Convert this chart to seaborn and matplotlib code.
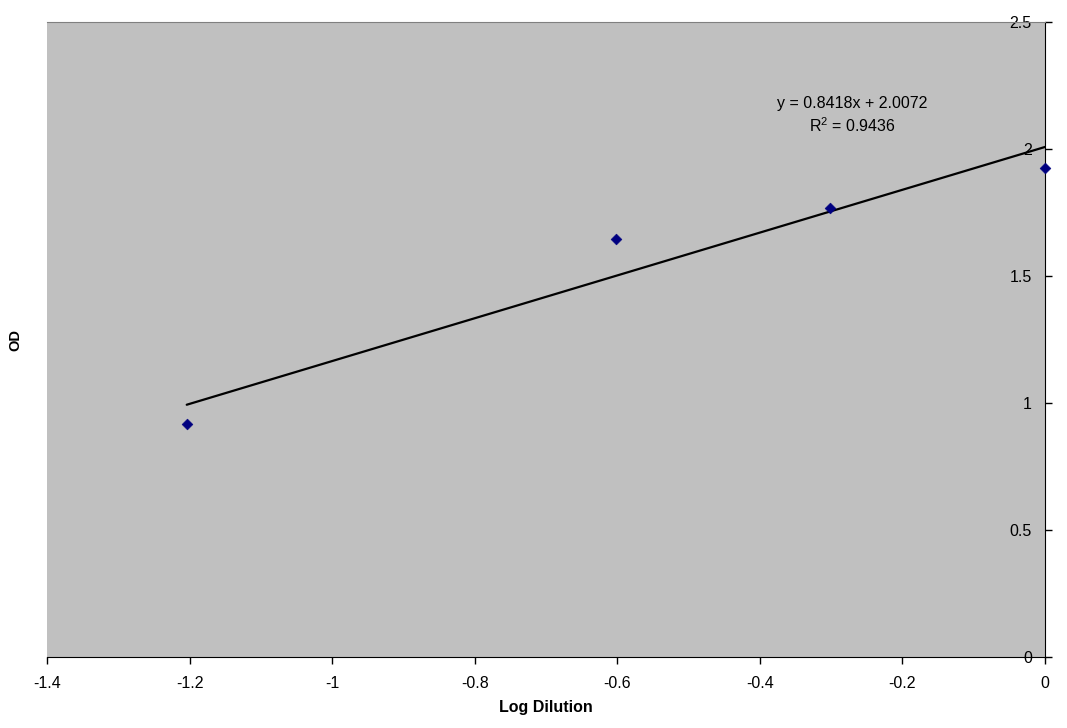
import numpy as np
import matplotlib
matplotlib.use("Agg")
import matplotlib.pyplot as plt
import seaborn as sns
import pandas as pd

# data
log_dilution = [-1.204, -0.602, -0.301, 0.0]
od = [0.917, 1.646, 1.768, 1.925]
eq_text = "y = 0.8418x + 2.0072"
r2_text = "R$^{2}$ = 0.9436"

df = pd.DataFrame({"Log Dilution": log_dilution, "OD": od})

sns.set_style("white")
plt.rcParams["font.family"] = ["Liberation Sans", "DejaVu Sans"]
plt.rcParams["mathtext.fontset"] = "custom"
plt.rcParams["mathtext.rm"] = "Liberation Sans"
plt.rcParams["mathtext.default"] = "regular"
plt.rcParams["text.color"] = "black"
plt.rcParams["axes.labelcolor"] = "black"
plt.rcParams["xtick.color"] = "black"
plt.rcParams["ytick.color"] = "black"

fig = plt.figure(figsize=(10.67, 7.28), dpi=100)
ax = fig.add_axes([47 / 1067, 71 / 728, 998 / 1067, 635 / 728])
ax.set_facecolor("#C0C0C0")

# linear trendline
slope, intercept = np.polyfit(log_dilution, od, 1)
xs = np.array([min(log_dilution), max(log_dilution)])
ax.plot(xs, slope * xs + intercept, color="black", lw=1.6, zorder=2)

sns.scatterplot(data=df, x="Log Dilution", y="OD", marker="D", s=30,
                color="#000080", edgecolor="#000080", ax=ax, zorder=3, clip_on=False)

ax.set_xlim(-1.4, 0)
ax.set_ylim(0, 2.5)
ax.set_xticks(np.arange(-1.4, 0.01, 0.2))
ax.set_xticklabels(["-1.4", "-1.2", "-1", "-0.8", "-0.6", "-0.4", "-0.2", "0"])
ax.set_yticks([0, 0.5, 1, 1.5, 2, 2.5])
ax.set_yticklabels(["0", "0.5", "1", "1.5", "2", "2.5"])

# y axis sits at x = 0 (right edge), labels inside the plot
ax.spines["left"].set_position(("data", 0))
ax.spines["left"].set_color("black")
ax.spines["right"].set_visible(False)
ax.spines["top"].set_color("#808080")
ax.spines["bottom"].set_color("black")
ax.yaxis.set_ticks_position("left")
ax.xaxis.set_ticks_position("bottom")
ax.tick_params(axis="y", direction="in", length=5, width=1, pad=9.5, labelsize=11.5)
ax.tick_params(axis="x", direction="out", length=5, width=1, pad=9, labelsize=11.5)

ax.set_xlabel("Log Dilution", fontsize=11.5, fontweight="bold", labelpad=6)
ax.set_ylabel("")
fig.text(15 / 1067, 1 - 340 / 728, "OD", rotation=90, fontsize=10.5,
         fontweight="bold", ha="center", va="center")

ax.text(-0.2705, 2.18, eq_text, fontsize=11.5, ha="center", va="center")
ax.text(-0.2705, 2.09, r2_text, fontsize=11.5, ha="center", va="center")

fig.savefig("out.png", dpi=100)
